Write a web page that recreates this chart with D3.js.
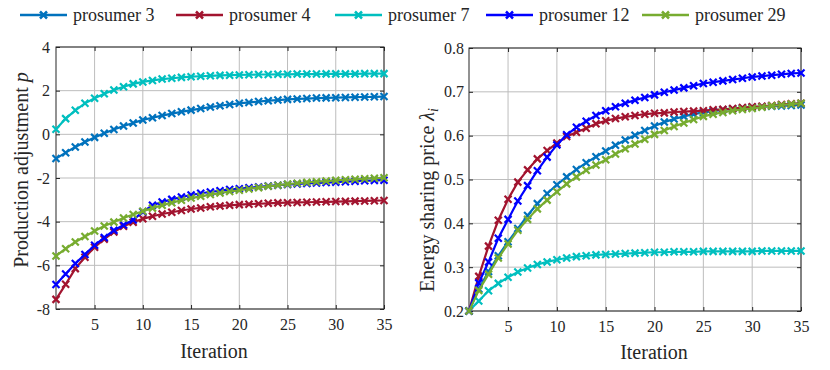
<!DOCTYPE html>
<html>
<head>
<meta charset="utf-8">
<script src="https://d3js.org/d3.v7.min.js"></script>
<style>
  body { margin: 0; background: #fff; }
  svg text { font-family: "Liberation Serif", Times, "Times New Roman", "DejaVu Serif", serif; fill: #262626; }
</style>
</head>
<body>
<div id="vis"></div>
<script>
const FRAME_WIDTH = 830;
const FRAME_HEIGHT = 370;
const SERIF = "'Liberation Serif', Times, 'Times New Roman', 'DejaVu Serif', serif";

// iterations 1..35
const ITERATIONS = d3.range(1, 36);
const X_TICKS = [5, 10, 15, 20, 25, 30, 35];
const P_TICKS = [-8, -6, -4, -2, 0, 2, 4];
const LAMBDA_TICKS = [0.2, 0.3, 0.4, 0.5, 0.6, 0.7, 0.8];

const NAMES = ["prosumer 3", "prosumer 4", "prosumer 7", "prosumer 12", "prosumer 29"];
const COLORS = ["#0072BD", "#A2142F", "#00BFBF", "#0000FF", "#77AC30"];

// production adjustment p (left)
const P3 = [-1.11,-0.84,-0.58,-0.35,-0.14,0.05,0.22,0.38,0.52,0.66,0.76,0.86,0.95,1.03,1.11,1.18,1.25,1.31,1.37,1.42,1.46,1.50,1.54,1.57,1.60,1.62,1.64,1.66,1.67,1.68,1.69,1.70,1.71,1.72,1.73];
const P4 = [-7.56,-6.87,-6.15,-5.63,-5.17,-4.80,-4.47,-4.21,-4.03,-3.87,-3.75,-3.65,-3.57,-3.49,-3.42,-3.37,-3.32,-3.28,-3.25,-3.22,-3.20,-3.18,-3.16,-3.14,-3.13,-3.12,-3.11,-3.10,-3.09,-3.08,-3.07,-3.06,-3.05,-3.04,-3.03];
const P7 = [0.23,0.72,1.10,1.42,1.65,1.86,2.03,2.18,2.31,2.40,2.47,2.53,2.57,2.61,2.64,2.66,2.68,2.70,2.71,2.72,2.73,2.74,2.74,2.75,2.75,2.76,2.76,2.76,2.77,2.77,2.77,2.77,2.78,2.78,2.78];
const P12 = [-6.88,-6.40,-5.92,-5.50,-5.08,-4.73,-4.40,-4.15,-3.92,-3.55,-3.25,-3.10,-2.98,-2.87,-2.78,-2.70,-2.64,-2.58,-2.53,-2.49,-2.45,-2.41,-2.37,-2.33,-2.30,-2.27,-2.25,-2.23,-2.21,-2.19,-2.17,-2.15,-2.13,-2.11,-2.10];
const P29 = [-5.57,-5.24,-4.93,-4.68,-4.43,-4.20,-4.02,-3.83,-3.67,-3.52,-3.38,-3.25,-3.13,-3.02,-2.92,-2.84,-2.76,-2.69,-2.62,-2.56,-2.50,-2.44,-2.38,-2.33,-2.28,-2.24,-2.20,-2.17,-2.14,-2.11,-2.08,-2.06,-2.03,-2.01,-1.99];

// energy sharing price lambda (right)
const L3 = [0.200,0.250,0.290,0.326,0.358,0.388,0.418,0.445,0.468,0.488,0.506,0.523,0.538,0.552,0.565,0.578,0.590,0.601,0.612,0.622,0.631,0.638,0.644,0.649,0.653,0.656,0.659,0.661,0.663,0.665,0.666,0.667,0.668,0.669,0.670];
const L4 = [0.200,0.279,0.348,0.407,0.455,0.494,0.522,0.547,0.566,0.583,0.598,0.608,0.617,0.627,0.634,0.639,0.643,0.646,0.649,0.651,0.652,0.654,0.655,0.656,0.657,0.659,0.660,0.662,0.664,0.666,0.667,0.669,0.671,0.673,0.674];
const L7 = [0.200,0.223,0.246,0.263,0.277,0.289,0.298,0.306,0.312,0.317,0.321,0.324,0.326,0.328,0.329,0.330,0.331,0.332,0.333,0.334,0.334,0.335,0.335,0.335,0.336,0.336,0.336,0.336,0.336,0.336,0.337,0.337,0.337,0.337,0.337];
const L12 = [0.200,0.264,0.312,0.366,0.409,0.451,0.486,0.520,0.551,0.579,0.602,0.619,0.633,0.646,0.657,0.666,0.674,0.681,0.687,0.693,0.699,0.704,0.709,0.714,0.719,0.722,0.725,0.728,0.731,0.734,0.736,0.738,0.740,0.742,0.743];
const L29 = [0.200,0.247,0.284,0.321,0.353,0.384,0.409,0.433,0.453,0.472,0.490,0.506,0.521,0.533,0.545,0.558,0.570,0.581,0.592,0.603,0.612,0.621,0.629,0.637,0.644,0.649,0.653,0.657,0.660,0.662,0.665,0.668,0.670,0.672,0.674];

const LEFT_SERIES = [P3, P4, P7, P12, P29];
const RIGHT_SERIES = [L3, L4, L7, L12, L29];

const FRAME = d3.select("#vis")
    .append("svg")
    .attr("width", FRAME_WIDTH)
    .attr("height", FRAME_HEIGHT)
    .style("font-family", SERIF);

// draws one panel
function panel(box, yDomain, yTicks, yFmt, series, tickPad) {
    const X_SCALE = d3.scaleLinear().domain([1, 35]).range([box.left, box.right]);
    const Y_SCALE = d3.scaleLinear().domain(yDomain).range([box.bottom, box.top]);
    const g = FRAME.append("g");

    // grid
    g.selectAll(".vgrid").data(X_TICKS).enter().append("line")
        .attr("x1", d => X_SCALE(d)).attr("x2", d => X_SCALE(d))
        .attr("y1", box.top).attr("y2", box.bottom)
        .attr("stroke", "#bdbdbd").attr("stroke-width", 1);
    g.selectAll(".hgrid").data(yTicks).enter().append("line")
        .attr("x1", box.left).attr("x2", box.right)
        .attr("y1", d => Y_SCALE(d)).attr("y2", d => Y_SCALE(d))
        .attr("stroke", "#bdbdbd").attr("stroke-width", 1);

    // axes, ticks pointing in
    const xb = g.append("g").attr("transform", "translate(0," + box.bottom + ")")
        .call(d3.axisBottom(X_SCALE).tickValues(X_TICKS).tickSizeInner(-4).tickSizeOuter(0).tickPadding(10));
    const yl = g.append("g").attr("transform", "translate(" + box.left + ",0)")
        .call(d3.axisLeft(Y_SCALE).tickValues(yTicks).tickFormat(yFmt).tickSizeInner(-4).tickSizeOuter(0).tickPadding(tickPad));
    const xt = g.append("g").attr("transform", "translate(0," + box.top + ")")
        .call(d3.axisTop(X_SCALE).tickValues(X_TICKS).tickSizeInner(-4).tickSizeOuter(0).tickFormat(""));
    const yr = g.append("g").attr("transform", "translate(" + box.right + ",0)")
        .call(d3.axisRight(Y_SCALE).tickValues(yTicks).tickSizeInner(-4).tickSizeOuter(0).tickFormat(""));
    [xb, yl, xt, yr].forEach(a => {
        a.attr("font-family", null).attr("font-size", null);
        a.select(".domain").remove();
        a.selectAll("line").attr("stroke", "#262626");
        a.selectAll("text").attr("font-size", 16).attr("fill", "#262626");
    });
    g.append("rect")
        .attr("x", box.left).attr("y", box.top)
        .attr("width", box.right - box.left).attr("height", box.bottom - box.top)
        .attr("fill", "none").attr("stroke", "#262626").attr("stroke-width", 1);

    // lines + x markers
    const line = d3.line().x((d, i) => X_SCALE(ITERATIONS[i])).y(d => Y_SCALE(d));
    series.forEach((s, k) => {
        g.append("path").datum(s)
            .attr("d", line)
            .attr("fill", "none")
            .attr("stroke", COLORS[k])
            .attr("stroke-width", 2.2);
        g.selectAll(".m" + k).data(s).enter().append("path")
            .attr("transform", (d, i) => "translate(" + X_SCALE(ITERATIONS[i]) + "," + Y_SCALE(d) + ")")
            .attr("d", "M-3.5,-3.5L3.5,3.5M-3.5,3.5L3.5,-3.5")
            .attr("stroke", COLORS[k])
            .attr("stroke-width", 2.2)
            .attr("fill", "none");
    });
}

// plain hyphen for negatives, like the original
panel({left: 56, right: 384, top: 47, bottom: 309}, [-8, 4], P_TICKS, d => String(d), LEFT_SERIES, 6);
panel({left: 469, right: 801, top: 48, bottom: 311}, [0.2, 0.8], LAMBDA_TICKS, d => d.toFixed(1), RIGHT_SERIES, 5);

// axis labels
FRAME.append("text").attr("x", 214).attr("y", 358).attr("text-anchor", "middle")
    .attr("font-size", 20).text("Iteration");
FRAME.append("text").attr("x", 654).attr("y", 359).attr("text-anchor", "middle")
    .attr("font-size", 20).text("Iteration");

const yLabL = FRAME.append("text")
    .attr("transform", "translate(28,170) rotate(-90)")
    .attr("text-anchor", "middle").attr("font-size", 20);
yLabL.append("tspan").text("Production adjustment ");
yLabL.append("tspan").attr("font-style", "italic").text("p");

const yLabR = FRAME.append("text")
    .attr("transform", "translate(434,200) rotate(-90)")
    .attr("text-anchor", "middle").attr("font-size", 20);
yLabR.append("tspan").text("Energy sharing price ");
yLabR.append("tspan").attr("font-style", "italic").text("\u03BB");
yLabR.append("tspan").attr("font-style", "italic").attr("font-size", 14).attr("dy", 4).text("i");

// legend
const LEGEND_X = [20, 176, 335, 486, 642];
NAMES.forEach((name, k) => {
    const lg = FRAME.append("g").attr("transform", "translate(" + LEGEND_X[k] + ",15)");
    lg.append("line").attr("x1", 0).attr("x2", 47).attr("y1", 0).attr("y2", 0)
        .attr("stroke", COLORS[k]).attr("stroke-width", 2.5);
    lg.append("path").attr("d", "M20,-3.5L27,3.5M20,3.5L27,-3.5")
        .attr("stroke", COLORS[k]).attr("stroke-width", 2.5);
    lg.append("text").attr("x", 53).attr("y", 6).attr("font-size", 18).text(name);
});
</script>
</body>
</html>
